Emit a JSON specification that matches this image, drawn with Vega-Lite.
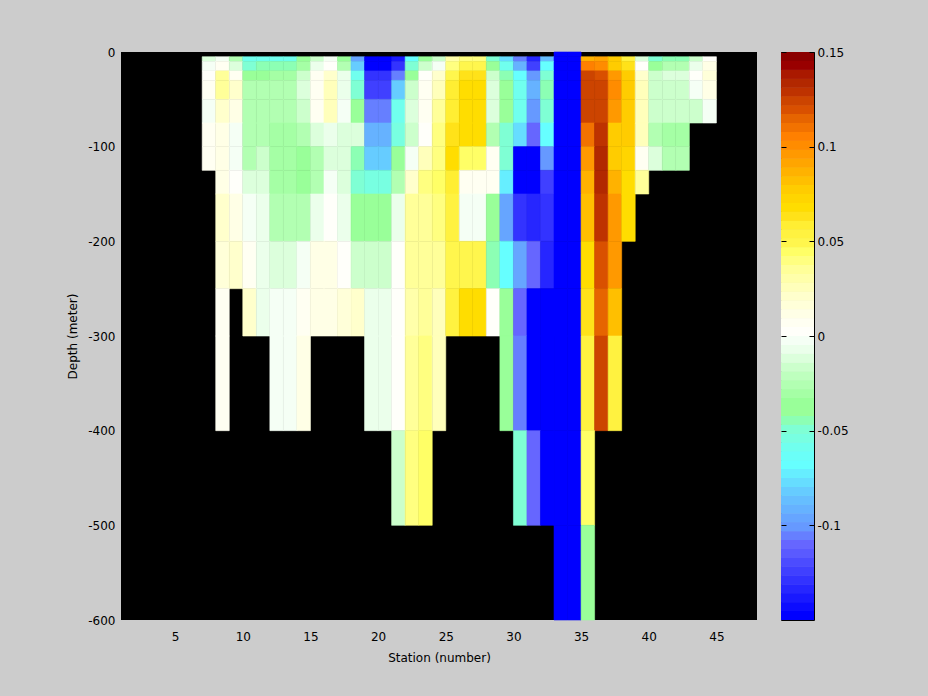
{"$schema":"https://vega.github.io/schema/vega-lite/v6.json","background":"#cccccc","padding":{"left":66,"top":45,"right":80,"bottom":33},"spacing":23,"config":{"font":"DejaVu Sans","axis":{"labelFont":"DejaVu Sans","titleFont":"DejaVu Sans","labelFontSize":12,"titleFontSize":12,"titleFontWeight":"normal","labelColor":"#000000","titleColor":"#000000","grid":false}},"hconcat":[{"width":636,"height":568,"view":{"fill":"#000000","stroke":null},"data":{"values":[
{"s":33,"e":34,"t":0,"b":-5,"v":-0.15},{"s":34,"e":35,"t":0,"b":-5,"v":-0.15},
{"s":7,"e":8,"t":-5,"b":-10,"v":-0.01},{"s":8,"e":9,"t":-5,"b":-10,"v":-0.001},{"s":9,"e":10,"t":-5,"b":-10,"v":-0.027},{"s":10,"e":11,"t":-5,"b":-10,"v":-0.06},{"s":11,"e":12,"t":-5,"b":-10,"v":-0.06},{"s":12,"e":13,"t":-5,"b":-10,"v":-0.058},{"s":13,"e":14,"t":-5,"b":-10,"v":-0.058},{"s":14,"e":15,"t":-5,"b":-10,"v":-0.037},{"s":15,"e":16,"t":-5,"b":-10,"v":-0.018},{"s":16,"e":17,"t":-5,"b":-10,"v":-0.003},{"s":17,"e":18,"t":-5,"b":-10,"v":-0.036},{"s":18,"e":19,"t":-5,"b":-10,"v":-0.095},{"s":19,"e":20,"t":-5,"b":-10,"v":-0.15},{"s":20,"e":21,"t":-5,"b":-10,"v":-0.15},{"s":21,"e":22,"t":-5,"b":-10,"v":-0.14},{"s":22,"e":23,"t":-5,"b":-10,"v":-0.07},{"s":23,"e":24,"t":-5,"b":-10,"v":-0.033},{"s":24,"e":25,"t":-5,"b":-10,"v":-0.017},{"s":25,"e":26,"t":-5,"b":-10,"v":0.03},{"s":26,"e":27,"t":-5,"b":-10,"v":0.039},{"s":27,"e":28,"t":-5,"b":-10,"v":0.039},{"s":28,"e":29,"t":-5,"b":-10,"v":-0.05},{"s":29,"e":30,"t":-5,"b":-10,"v":-0.078},{"s":30,"e":31,"t":-5,"b":-10,"v":-0.105},{"s":31,"e":32,"t":-5,"b":-10,"v":-0.134},{"s":32,"e":33,"t":-5,"b":-10,"v":-0.088},{"s":33,"e":34,"t":-5,"b":-10,"v":-0.15},{"s":34,"e":35,"t":-5,"b":-10,"v":-0.15},{"s":35,"e":36,"t":-5,"b":-10,"v":0.086},{"s":36,"e":37,"t":-5,"b":-10,"v":0.09},{"s":37,"e":38,"t":-5,"b":-10,"v":0.076},{"s":38,"e":39,"t":-5,"b":-10,"v":0.053},{"s":39,"e":40,"t":-5,"b":-10,"v":-0.01},{"s":40,"e":41,"t":-5,"b":-10,"v":-0.05},{"s":41,"e":42,"t":-5,"b":-10,"v":-0.043},{"s":42,"e":43,"t":-5,"b":-10,"v":-0.043},{"s":43,"e":44,"t":-5,"b":-10,"v":-0.017},{"s":44,"e":45,"t":-5,"b":-10,"v":0.001},
{"s":7,"e":8,"t":-10,"b":-20,"v":-0.004},{"s":8,"e":9,"t":-10,"b":-20,"v":0.008},{"s":9,"e":10,"t":-10,"b":-20,"v":-0.012},{"s":10,"e":11,"t":-10,"b":-20,"v":-0.05},{"s":11,"e":12,"t":-10,"b":-20,"v":-0.045},{"s":12,"e":13,"t":-10,"b":-20,"v":-0.043},{"s":13,"e":14,"t":-10,"b":-20,"v":-0.043},{"s":14,"e":15,"t":-10,"b":-20,"v":-0.03},{"s":15,"e":16,"t":-10,"b":-20,"v":-0.008},{"s":16,"e":17,"t":-10,"b":-20,"v":0.001},{"s":17,"e":18,"t":-10,"b":-20,"v":-0.027},{"s":18,"e":19,"t":-10,"b":-20,"v":-0.08},{"s":19,"e":20,"t":-10,"b":-20,"v":-0.15},{"s":20,"e":21,"t":-10,"b":-20,"v":-0.15},{"s":21,"e":22,"t":-10,"b":-20,"v":-0.128},{"s":22,"e":23,"t":-10,"b":-20,"v":-0.05},{"s":23,"e":24,"t":-10,"b":-20,"v":-0.017},{"s":24,"e":25,"t":-10,"b":-20,"v":-0.004},{"s":25,"e":26,"t":-10,"b":-20,"v":0.04},{"s":26,"e":27,"t":-10,"b":-20,"v":0.048},{"s":27,"e":28,"t":-10,"b":-20,"v":0.048},{"s":28,"e":29,"t":-10,"b":-20,"v":-0.037},{"s":29,"e":30,"t":-10,"b":-20,"v":-0.06},{"s":30,"e":31,"t":-10,"b":-20,"v":-0.09},{"s":31,"e":32,"t":-10,"b":-20,"v":-0.122},{"s":32,"e":33,"t":-10,"b":-20,"v":-0.07},{"s":33,"e":34,"t":-10,"b":-20,"v":-0.15},{"s":34,"e":35,"t":-10,"b":-20,"v":-0.15},{"s":35,"e":36,"t":-10,"b":-20,"v":0.105},{"s":36,"e":37,"t":-10,"b":-20,"v":0.1},{"s":37,"e":38,"t":-10,"b":-20,"v":0.076},{"s":38,"e":39,"t":-10,"b":-20,"v":0.062},{"s":39,"e":40,"t":-10,"b":-20,"v":0.001},{"s":40,"e":41,"t":-10,"b":-20,"v":-0.033},{"s":41,"e":42,"t":-10,"b":-20,"v":-0.027},{"s":42,"e":43,"t":-10,"b":-20,"v":-0.027},{"s":43,"e":44,"t":-10,"b":-20,"v":-0.008},{"s":44,"e":45,"t":-10,"b":-20,"v":0.012},
{"s":7,"e":8,"t":-20,"b":-30,"v":0.004},{"s":8,"e":9,"t":-20,"b":-30,"v":0.034},{"s":9,"e":10,"t":-20,"b":-30,"v":0.008},{"s":10,"e":11,"t":-20,"b":-30,"v":-0.037},{"s":11,"e":12,"t":-20,"b":-30,"v":-0.033},{"s":12,"e":13,"t":-20,"b":-30,"v":-0.031},{"s":13,"e":14,"t":-20,"b":-30,"v":-0.031},{"s":14,"e":15,"t":-20,"b":-30,"v":-0.017},{"s":15,"e":16,"t":-20,"b":-30,"v":0.006},{"s":16,"e":17,"t":-20,"b":-30,"v":0.02},{"s":17,"e":18,"t":-20,"b":-30,"v":-0.006},{"s":18,"e":19,"t":-20,"b":-30,"v":-0.06},{"s":19,"e":20,"t":-20,"b":-30,"v":-0.128},{"s":20,"e":21,"t":-20,"b":-30,"v":-0.128},{"s":21,"e":22,"t":-20,"b":-30,"v":-0.105},{"s":22,"e":23,"t":-20,"b":-30,"v":-0.033},{"s":23,"e":24,"t":-20,"b":-30,"v":0.002},{"s":24,"e":25,"t":-20,"b":-30,"v":0.02},{"s":25,"e":26,"t":-20,"b":-30,"v":0.05},{"s":26,"e":27,"t":-20,"b":-30,"v":0.062},{"s":27,"e":28,"t":-20,"b":-30,"v":0.062},{"s":28,"e":29,"t":-20,"b":-30,"v":-0.017},{"s":29,"e":30,"t":-20,"b":-30,"v":-0.043},{"s":30,"e":31,"t":-20,"b":-30,"v":-0.07},{"s":31,"e":32,"t":-20,"b":-30,"v":-0.1},{"s":32,"e":33,"t":-20,"b":-30,"v":-0.05},{"s":33,"e":34,"t":-20,"b":-30,"v":-0.15},{"s":34,"e":35,"t":-20,"b":-30,"v":-0.15},{"s":35,"e":36,"t":-20,"b":-30,"v":0.123},{"s":36,"e":37,"t":-20,"b":-30,"v":0.118},{"s":37,"e":38,"t":-20,"b":-30,"v":0.096},{"s":38,"e":39,"t":-20,"b":-30,"v":0.076},{"s":39,"e":40,"t":-20,"b":-30,"v":0.02},{"s":40,"e":41,"t":-20,"b":-30,"v":-0.017},{"s":41,"e":42,"t":-20,"b":-30,"v":-0.012},{"s":42,"e":43,"t":-20,"b":-30,"v":-0.012},{"s":43,"e":44,"t":-20,"b":-30,"v":0.004},{"s":44,"e":45,"t":-20,"b":-30,"v":0.017},
{"s":7,"e":8,"t":-30,"b":-50,"v":0.005},{"s":8,"e":9,"t":-30,"b":-50,"v":0.034},{"s":9,"e":10,"t":-30,"b":-50,"v":0.02},{"s":10,"e":11,"t":-30,"b":-50,"v":-0.027},{"s":11,"e":12,"t":-30,"b":-50,"v":-0.024},{"s":12,"e":13,"t":-30,"b":-50,"v":-0.028},{"s":13,"e":14,"t":-30,"b":-50,"v":-0.028},{"s":14,"e":15,"t":-30,"b":-50,"v":-0.012},{"s":15,"e":16,"t":-30,"b":-50,"v":0.006},{"s":16,"e":17,"t":-30,"b":-50,"v":0.026},{"s":17,"e":18,"t":-30,"b":-50,"v":-0.008},{"s":18,"e":19,"t":-30,"b":-50,"v":-0.05},{"s":19,"e":20,"t":-30,"b":-50,"v":-0.122},{"s":20,"e":21,"t":-30,"b":-50,"v":-0.122},{"s":21,"e":22,"t":-30,"b":-50,"v":-0.08},{"s":22,"e":23,"t":-30,"b":-50,"v":-0.017},{"s":23,"e":24,"t":-30,"b":-50,"v":0.005},{"s":24,"e":25,"t":-30,"b":-50,"v":0.026},{"s":25,"e":26,"t":-30,"b":-50,"v":0.06},{"s":26,"e":27,"t":-30,"b":-50,"v":0.066},{"s":27,"e":28,"t":-30,"b":-50,"v":0.066},{"s":28,"e":29,"t":-30,"b":-50,"v":-0.014},{"s":29,"e":30,"t":-30,"b":-50,"v":-0.037},{"s":30,"e":31,"t":-30,"b":-50,"v":-0.06},{"s":31,"e":32,"t":-30,"b":-50,"v":-0.09},{"s":32,"e":33,"t":-30,"b":-50,"v":-0.045},{"s":33,"e":34,"t":-30,"b":-50,"v":-0.15},{"s":34,"e":35,"t":-30,"b":-50,"v":-0.15},{"s":35,"e":36,"t":-30,"b":-50,"v":0.123},{"s":36,"e":37,"t":-30,"b":-50,"v":0.123},{"s":37,"e":38,"t":-30,"b":-50,"v":0.1},{"s":38,"e":39,"t":-30,"b":-50,"v":0.076},{"s":39,"e":40,"t":-30,"b":-50,"v":0.026},{"s":40,"e":41,"t":-30,"b":-50,"v":-0.018},{"s":41,"e":42,"t":-30,"b":-50,"v":-0.018},{"s":42,"e":43,"t":-30,"b":-50,"v":-0.018},{"s":43,"e":44,"t":-30,"b":-50,"v":-0.003},{"s":44,"e":45,"t":-30,"b":-50,"v":0.012},
{"s":7,"e":8,"t":-50,"b":-75,"v":-0.004},{"s":8,"e":9,"t":-50,"b":-75,"v":0.022},{"s":9,"e":10,"t":-50,"b":-75,"v":0.013},{"s":10,"e":11,"t":-50,"b":-75,"v":-0.024},{"s":11,"e":12,"t":-50,"b":-75,"v":-0.024},{"s":12,"e":13,"t":-50,"b":-75,"v":-0.024},{"s":13,"e":14,"t":-50,"b":-75,"v":-0.024},{"s":14,"e":15,"t":-50,"b":-75,"v":-0.015},{"s":15,"e":16,"t":-50,"b":-75,"v":0.006},{"s":16,"e":17,"t":-50,"b":-75,"v":0.026},{"s":17,"e":18,"t":-50,"b":-75,"v":-0.001},{"s":18,"e":19,"t":-50,"b":-75,"v":-0.038},{"s":19,"e":20,"t":-50,"b":-75,"v":-0.105},{"s":20,"e":21,"t":-50,"b":-75,"v":-0.105},{"s":21,"e":22,"t":-50,"b":-75,"v":-0.06},{"s":22,"e":23,"t":-50,"b":-75,"v":-0.012},{"s":23,"e":24,"t":-50,"b":-75,"v":0.005},{"s":24,"e":25,"t":-50,"b":-75,"v":0.034},{"s":25,"e":26,"t":-50,"b":-75,"v":0.058},{"s":26,"e":27,"t":-50,"b":-75,"v":0.066},{"s":27,"e":28,"t":-50,"b":-75,"v":0.066},{"s":28,"e":29,"t":-50,"b":-75,"v":-0.014},{"s":29,"e":30,"t":-50,"b":-75,"v":-0.037},{"s":30,"e":31,"t":-50,"b":-75,"v":-0.06},{"s":31,"e":32,"t":-50,"b":-75,"v":-0.1},{"s":32,"e":33,"t":-50,"b":-75,"v":-0.05},{"s":33,"e":34,"t":-50,"b":-75,"v":-0.15},{"s":34,"e":35,"t":-50,"b":-75,"v":-0.15},{"s":35,"e":36,"t":-50,"b":-75,"v":0.123},{"s":36,"e":37,"t":-50,"b":-75,"v":0.123},{"s":37,"e":38,"t":-50,"b":-75,"v":0.096},{"s":38,"e":39,"t":-50,"b":-75,"v":0.076},{"s":39,"e":40,"t":-50,"b":-75,"v":0.028},{"s":40,"e":41,"t":-50,"b":-75,"v":-0.018},{"s":41,"e":42,"t":-50,"b":-75,"v":-0.018},{"s":42,"e":43,"t":-50,"b":-75,"v":-0.018},{"s":43,"e":44,"t":-50,"b":-75,"v":-0.018},{"s":44,"e":45,"t":-50,"b":-75,"v":-0.003},
{"s":7,"e":8,"t":-75,"b":-100,"v":0.009},{"s":8,"e":9,"t":-75,"b":-100,"v":0.012},{"s":9,"e":10,"t":-75,"b":-100,"v":-0.002},{"s":10,"e":11,"t":-75,"b":-100,"v":-0.027},{"s":11,"e":12,"t":-75,"b":-100,"v":-0.024},{"s":12,"e":13,"t":-75,"b":-100,"v":-0.032},{"s":13,"e":14,"t":-75,"b":-100,"v":-0.032},{"s":14,"e":15,"t":-75,"b":-100,"v":-0.028},{"s":15,"e":16,"t":-75,"b":-100,"v":-0.011},{"s":16,"e":17,"t":-75,"b":-100,"v":-0.008},{"s":17,"e":18,"t":-75,"b":-100,"v":-0.011},{"s":18,"e":19,"t":-75,"b":-100,"v":-0.011},{"s":19,"e":20,"t":-75,"b":-100,"v":-0.09},{"s":20,"e":21,"t":-75,"b":-100,"v":-0.09},{"s":21,"e":22,"t":-75,"b":-100,"v":-0.055},{"s":22,"e":23,"t":-75,"b":-100,"v":-0.017},{"s":23,"e":24,"t":-75,"b":-100,"v":0.001},{"s":24,"e":25,"t":-75,"b":-100,"v":0.039},{"s":25,"e":26,"t":-75,"b":-100,"v":0.064},{"s":26,"e":27,"t":-75,"b":-100,"v":0.068},{"s":27,"e":28,"t":-75,"b":-100,"v":0.068},{"s":28,"e":29,"t":-75,"b":-100,"v":-0.024},{"s":29,"e":30,"t":-75,"b":-100,"v":-0.047},{"s":30,"e":31,"t":-75,"b":-100,"v":-0.078},{"s":31,"e":32,"t":-75,"b":-100,"v":-0.11},{"s":32,"e":33,"t":-75,"b":-100,"v":-0.07},{"s":33,"e":34,"t":-75,"b":-100,"v":-0.15},{"s":34,"e":35,"t":-75,"b":-100,"v":-0.15},{"s":35,"e":36,"t":-75,"b":-100,"v":0.11},{"s":36,"e":37,"t":-75,"b":-100,"v":0.13},{"s":37,"e":38,"t":-75,"b":-100,"v":0.076},{"s":38,"e":39,"t":-75,"b":-100,"v":0.077},{"s":39,"e":40,"t":-75,"b":-100,"v":0.028},{"s":40,"e":41,"t":-75,"b":-100,"v":-0.024},{"s":41,"e":42,"t":-75,"b":-100,"v":-0.032},{"s":42,"e":43,"t":-75,"b":-100,"v":-0.032},
{"s":7,"e":8,"t":-100,"b":-125,"v":0.009},{"s":8,"e":9,"t":-100,"b":-125,"v":0.011},{"s":9,"e":10,"t":-100,"b":-125,"v":-0.002},{"s":10,"e":11,"t":-100,"b":-125,"v":-0.027},{"s":11,"e":12,"t":-100,"b":-125,"v":-0.015},{"s":12,"e":13,"t":-100,"b":-125,"v":-0.032},{"s":13,"e":14,"t":-100,"b":-125,"v":-0.032},{"s":14,"e":15,"t":-100,"b":-125,"v":-0.036},{"s":15,"e":16,"t":-100,"b":-125,"v":-0.027},{"s":16,"e":17,"t":-100,"b":-125,"v":-0.012},{"s":17,"e":18,"t":-100,"b":-125,"v":-0.014},{"s":18,"e":19,"t":-100,"b":-125,"v":-0.043},{"s":19,"e":20,"t":-100,"b":-125,"v":-0.08},{"s":20,"e":21,"t":-100,"b":-125,"v":-0.08},{"s":21,"e":22,"t":-100,"b":-125,"v":-0.042},{"s":22,"e":23,"t":-100,"b":-125,"v":-0.002},{"s":23,"e":24,"t":-100,"b":-125,"v":0.026},{"s":24,"e":25,"t":-100,"b":-125,"v":0.04},{"s":25,"e":26,"t":-100,"b":-125,"v":0.07},{"s":26,"e":27,"t":-100,"b":-125,"v":0.045},{"s":27,"e":28,"t":-100,"b":-125,"v":0.045},{"s":28,"e":29,"t":-100,"b":-125,"v":0.009},{"s":29,"e":30,"t":-100,"b":-125,"v":-0.05},{"s":30,"e":31,"t":-100,"b":-125,"v":-0.15},{"s":31,"e":32,"t":-100,"b":-125,"v":-0.15},{"s":32,"e":33,"t":-100,"b":-125,"v":-0.1},{"s":33,"e":34,"t":-100,"b":-125,"v":-0.15},{"s":34,"e":35,"t":-100,"b":-125,"v":-0.15},{"s":35,"e":36,"t":-100,"b":-125,"v":0.096},{"s":36,"e":37,"t":-100,"b":-125,"v":0.135},{"s":37,"e":38,"t":-100,"b":-125,"v":0.076},{"s":38,"e":39,"t":-100,"b":-125,"v":0.072},{"s":39,"e":40,"t":-100,"b":-125,"v":0.005},{"s":40,"e":41,"t":-100,"b":-125,"v":-0.012},{"s":41,"e":42,"t":-100,"b":-125,"v":-0.027},{"s":42,"e":43,"t":-100,"b":-125,"v":-0.027},
{"s":8,"e":9,"t":-125,"b":-150,"v":0.012},{"s":9,"e":10,"t":-125,"b":-150,"v":0.003},{"s":10,"e":11,"t":-125,"b":-150,"v":-0.011},{"s":11,"e":12,"t":-125,"b":-150,"v":-0.011},{"s":12,"e":13,"t":-125,"b":-150,"v":-0.032},{"s":13,"e":14,"t":-125,"b":-150,"v":-0.032},{"s":14,"e":15,"t":-125,"b":-150,"v":-0.036},{"s":15,"e":16,"t":-125,"b":-150,"v":-0.024},{"s":16,"e":17,"t":-125,"b":-150,"v":-0.002},{"s":17,"e":18,"t":-125,"b":-150,"v":-0.012},{"s":18,"e":19,"t":-125,"b":-150,"v":-0.047},{"s":19,"e":20,"t":-125,"b":-150,"v":-0.052},{"s":20,"e":21,"t":-125,"b":-150,"v":-0.052},{"s":21,"e":22,"t":-125,"b":-150,"v":-0.024},{"s":22,"e":23,"t":-125,"b":-150,"v":0.02},{"s":23,"e":24,"t":-125,"b":-150,"v":0.039},{"s":24,"e":25,"t":-125,"b":-150,"v":0.045},{"s":25,"e":26,"t":-125,"b":-150,"v":0.06},{"s":26,"e":27,"t":-125,"b":-150,"v":0.009},{"s":27,"e":28,"t":-125,"b":-150,"v":0.009},{"s":28,"e":29,"t":-125,"b":-150,"v":0.009},{"s":29,"e":30,"t":-125,"b":-150,"v":-0.073},{"s":30,"e":31,"t":-125,"b":-150,"v":-0.15},{"s":31,"e":32,"t":-125,"b":-150,"v":-0.15},{"s":32,"e":33,"t":-125,"b":-150,"v":-0.122},{"s":33,"e":34,"t":-125,"b":-150,"v":-0.15},{"s":34,"e":35,"t":-125,"b":-150,"v":-0.15},{"s":35,"e":36,"t":-125,"b":-150,"v":0.086},{"s":36,"e":37,"t":-125,"b":-150,"v":0.135},{"s":37,"e":38,"t":-125,"b":-150,"v":0.086},{"s":38,"e":39,"t":-125,"b":-150,"v":0.07},{"s":39,"e":40,"t":-125,"b":-150,"v":0.034},
{"s":8,"e":9,"t":-150,"b":-200,"v":0.02},{"s":9,"e":10,"t":-150,"b":-200,"v":0.012},{"s":10,"e":11,"t":-150,"b":-200,"v":-0.002},{"s":11,"e":12,"t":-150,"b":-200,"v":-0.007},{"s":12,"e":13,"t":-150,"b":-200,"v":-0.027},{"s":13,"e":14,"t":-150,"b":-200,"v":-0.027},{"s":14,"e":15,"t":-150,"b":-200,"v":-0.027},{"s":15,"e":16,"t":-150,"b":-200,"v":-0.007},{"s":16,"e":17,"t":-150,"b":-200,"v":0.002},{"s":17,"e":18,"t":-150,"b":-200,"v":-0.007},{"s":18,"e":19,"t":-150,"b":-200,"v":-0.037},{"s":19,"e":20,"t":-150,"b":-200,"v":-0.037},{"s":20,"e":21,"t":-150,"b":-200,"v":-0.037},{"s":21,"e":22,"t":-150,"b":-200,"v":-0.007},{"s":22,"e":23,"t":-150,"b":-200,"v":0.034},{"s":23,"e":24,"t":-150,"b":-200,"v":0.034},{"s":24,"e":25,"t":-150,"b":-200,"v":0.039},{"s":25,"e":26,"t":-150,"b":-200,"v":0.056},{"s":26,"e":27,"t":-150,"b":-200,"v":-0.002},{"s":27,"e":28,"t":-150,"b":-200,"v":-0.002},{"s":28,"e":29,"t":-150,"b":-200,"v":-0.037},{"s":29,"e":30,"t":-150,"b":-200,"v":-0.095},{"s":30,"e":31,"t":-150,"b":-200,"v":-0.128},{"s":31,"e":32,"t":-150,"b":-200,"v":-0.135},{"s":32,"e":33,"t":-150,"b":-200,"v":-0.128},{"s":33,"e":34,"t":-150,"b":-200,"v":-0.15},{"s":34,"e":35,"t":-150,"b":-200,"v":-0.15},{"s":35,"e":36,"t":-150,"b":-200,"v":0.082},{"s":36,"e":37,"t":-150,"b":-200,"v":0.13},{"s":37,"e":38,"t":-150,"b":-200,"v":0.096},{"s":38,"e":39,"t":-150,"b":-200,"v":0.07},
{"s":8,"e":9,"t":-200,"b":-250,"v":0.017},{"s":9,"e":10,"t":-200,"b":-250,"v":0.019},{"s":10,"e":11,"t":-200,"b":-250,"v":0.006},{"s":11,"e":12,"t":-200,"b":-250,"v":-0.005},{"s":12,"e":13,"t":-200,"b":-250,"v":-0.011},{"s":13,"e":14,"t":-200,"b":-250,"v":-0.011},{"s":14,"e":15,"t":-200,"b":-250,"v":-0.003},{"s":15,"e":16,"t":-200,"b":-250,"v":0.014},{"s":16,"e":17,"t":-200,"b":-250,"v":0.014},{"s":17,"e":18,"t":-200,"b":-250,"v":0.002},{"s":18,"e":19,"t":-200,"b":-250,"v":-0.018},{"s":19,"e":20,"t":-200,"b":-250,"v":-0.018},{"s":20,"e":21,"t":-200,"b":-250,"v":-0.018},{"s":21,"e":22,"t":-200,"b":-250,"v":0.002},{"s":22,"e":23,"t":-200,"b":-250,"v":0.034},{"s":23,"e":24,"t":-200,"b":-250,"v":0.034},{"s":24,"e":25,"t":-200,"b":-250,"v":0.034},{"s":25,"e":26,"t":-200,"b":-250,"v":0.047},{"s":26,"e":27,"t":-200,"b":-250,"v":0.047},{"s":27,"e":28,"t":-200,"b":-250,"v":0.047},{"s":28,"e":29,"t":-200,"b":-250,"v":-0.044},{"s":29,"e":30,"t":-200,"b":-250,"v":-0.07},{"s":30,"e":31,"t":-200,"b":-250,"v":-0.095},{"s":31,"e":32,"t":-200,"b":-250,"v":-0.11},{"s":32,"e":33,"t":-200,"b":-250,"v":-0.135},{"s":33,"e":34,"t":-200,"b":-250,"v":-0.15},{"s":34,"e":35,"t":-200,"b":-250,"v":-0.15},{"s":35,"e":36,"t":-200,"b":-250,"v":0.07},{"s":36,"e":37,"t":-200,"b":-250,"v":0.118},{"s":37,"e":38,"t":-200,"b":-250,"v":0.096},
{"s":8,"e":9,"t":-250,"b":-300,"v":0.005},{"s":10,"e":11,"t":-250,"b":-300,"v":0.02},{"s":11,"e":12,"t":-250,"b":-300,"v":-0.005},{"s":12,"e":13,"t":-250,"b":-300,"v":-0.002},{"s":13,"e":14,"t":-250,"b":-300,"v":-0.002},{"s":14,"e":15,"t":-250,"b":-300,"v":0.009},{"s":15,"e":16,"t":-250,"b":-300,"v":0.012},{"s":16,"e":17,"t":-250,"b":-300,"v":0.012},{"s":17,"e":18,"t":-250,"b":-300,"v":0.015},{"s":18,"e":19,"t":-250,"b":-300,"v":0.021},{"s":19,"e":20,"t":-250,"b":-300,"v":-0.007},{"s":20,"e":21,"t":-250,"b":-300,"v":-0.007},{"s":21,"e":22,"t":-250,"b":-300,"v":0.002},{"s":22,"e":23,"t":-250,"b":-300,"v":0.03},{"s":23,"e":24,"t":-250,"b":-300,"v":0.034},{"s":24,"e":25,"t":-250,"b":-300,"v":0.024},{"s":25,"e":26,"t":-250,"b":-300,"v":0.056},{"s":26,"e":27,"t":-250,"b":-300,"v":0.068},{"s":27,"e":28,"t":-250,"b":-300,"v":0.068},{"s":28,"e":29,"t":-250,"b":-300,"v":0.002},{"s":29,"e":30,"t":-250,"b":-300,"v":-0.037},{"s":30,"e":31,"t":-250,"b":-300,"v":-0.11},{"s":31,"e":32,"t":-250,"b":-300,"v":-0.15},{"s":32,"e":33,"t":-250,"b":-300,"v":-0.15},{"s":33,"e":34,"t":-250,"b":-300,"v":-0.15},{"s":34,"e":35,"t":-250,"b":-300,"v":-0.15},{"s":35,"e":36,"t":-250,"b":-300,"v":0.062},{"s":36,"e":37,"t":-250,"b":-300,"v":0.115},{"s":37,"e":38,"t":-250,"b":-300,"v":0.082},
{"s":8,"e":9,"t":-300,"b":-400,"v":0.009},{"s":12,"e":13,"t":-300,"b":-400,"v":-0.002},{"s":13,"e":14,"t":-300,"b":-400,"v":-0.002},{"s":14,"e":15,"t":-300,"b":-400,"v":0.014},{"s":19,"e":20,"t":-300,"b":-400,"v":-0.007},{"s":20,"e":21,"t":-300,"b":-400,"v":-0.007},{"s":21,"e":22,"t":-300,"b":-400,"v":0.002},{"s":22,"e":23,"t":-300,"b":-400,"v":0.036},{"s":23,"e":24,"t":-300,"b":-400,"v":0.039},{"s":24,"e":25,"t":-300,"b":-400,"v":0.024},{"s":29,"e":30,"t":-300,"b":-400,"v":-0.038},{"s":30,"e":31,"t":-300,"b":-400,"v":-0.105},{"s":31,"e":32,"t":-300,"b":-400,"v":-0.15},{"s":32,"e":33,"t":-300,"b":-400,"v":-0.15},{"s":33,"e":34,"t":-300,"b":-400,"v":-0.15},{"s":34,"e":35,"t":-300,"b":-400,"v":-0.15},{"s":35,"e":36,"t":-300,"b":-400,"v":0.056},{"s":36,"e":37,"t":-300,"b":-400,"v":0.123},{"s":37,"e":38,"t":-300,"b":-400,"v":0.056},
{"s":21,"e":22,"t":-400,"b":-500,"v":-0.017},{"s":22,"e":23,"t":-400,"b":-500,"v":0.039},{"s":23,"e":24,"t":-400,"b":-500,"v":0.043},{"s":30,"e":31,"t":-400,"b":-500,"v":-0.05},{"s":31,"e":32,"t":-400,"b":-500,"v":-0.11},{"s":32,"e":33,"t":-400,"b":-500,"v":-0.15},{"s":33,"e":34,"t":-400,"b":-500,"v":-0.15},{"s":34,"e":35,"t":-400,"b":-500,"v":-0.15},{"s":35,"e":36,"t":-400,"b":-500,"v":0.043},
{"s":33,"e":34,"t":-500,"b":-600,"v":-0.15},{"s":34,"e":35,"t":-500,"b":-600,"v":-0.15},{"s":35,"e":36,"t":-500,"b":-600,"v":-0.037}
]},"mark":{"type":"rect","strokeWidth":0.6},"encoding":{"x":{"field":"s","type":"quantitative","scale":{"domain":[1,48],"nice":false,"zero":false},"axis":{"title":"Station (number)","values":[5,10,15,20,25,30,35,40,45],"ticks":false,"domain":false,"labelPadding":11,"titlePadding":10,"labelFlush":false}},"x2":{"field":"e"},"y":{"field":"t","type":"quantitative","scale":{"domain":[-600,0],"nice":false,"zero":false},"axis":{"title":"Depth (meter)","values":[-600,-500,-400,-300,-200,-100,0],"ticks":false,"domain":false,"labelPadding":6,"titlePadding":8,"labelExpr":"''+datum.value"}},"y2":{"field":"b"},"stroke":{"field":"v","type":"quantitative","legend":null,"scale":{"type":"quantize","domain":[-0.15,0.15],"nice":false,"range":["#0000ff","#0c0cff","#1919ff","#2626ff","#3333ff","#4040ff","#4c4cff","#5a5aff","#6666ff","#667fff","#6699ff","#66a5ff","#66b2ff","#66beff","#66ccff","#66ddff","#66eeff","#66ffff","#6afff8","#70ffee","#78ffe1","#7fffd4","#8cffb4","#99ff99","#99ff99","#a5ffa5","#b2ffb2","#beffbe","#ccffcc","#dcffdc","#ebffeb","#f5fff5","#fffffa","#fffff2","#ffffe6","#ffffd9","#ffffcc","#ffffbb","#ffffaa","#ffff99","#ffff80","#ffff66","#fff64d","#fff240","#ffee33","#ffe219","#ffdd00","#ffd500","#ffcc00","#ffbf00","#ffb200","#ffa500","#ff9900","#ff8c00","#ff8000","#f27200","#e66400","#d95000","#cc4400","#be3200","#b22800","#aa1900","#990000","#8b0000"]}},"color":{"field":"v","type":"quantitative","legend":null,"scale":{"type":"quantize","domain":[-0.15,0.15],"nice":false,"range":["#0000ff","#0c0cff","#1919ff","#2626ff","#3333ff","#4040ff","#4c4cff","#5a5aff","#6666ff","#667fff","#6699ff","#66a5ff","#66b2ff","#66beff","#66ccff","#66ddff","#66eeff","#66ffff","#6afff8","#70ffee","#78ffe1","#7fffd4","#8cffb4","#99ff99","#99ff99","#a5ffa5","#b2ffb2","#beffbe","#ccffcc","#dcffdc","#ebffeb","#f5fff5","#fffffa","#fffff2","#ffffe6","#ffffd9","#ffffcc","#ffffbb","#ffffaa","#ffff99","#ffff80","#ffff66","#fff64d","#fff240","#ffee33","#ffe219","#ffdd00","#ffd500","#ffcc00","#ffbf00","#ffb200","#ffa500","#ff9900","#ff8c00","#ff8000","#f27200","#e66400","#d95000","#cc4400","#be3200","#b22800","#aa1900","#990000","#8b0000"]}}}},
{"width":33,"height":568,"view":{"stroke":"#000000","strokeWidth":1},"data":{"values":[
{"a":0,"c":1,"lo":-0.15,"hi":-0.1453,"v":-0.1477},{"a":0,"c":1,"lo":-0.1453,"hi":-0.1406,"v":-0.143},{"a":0,"c":1,"lo":-0.1406,"hi":-0.1359,"v":-0.1383},{"a":0,"c":1,"lo":-0.1359,"hi":-0.1313,"v":-0.1336},{"a":0,"c":1,"lo":-0.1313,"hi":-0.1266,"v":-0.1289},{"a":0,"c":1,"lo":-0.1266,"hi":-0.1219,"v":-0.1242},{"a":0,"c":1,"lo":-0.1219,"hi":-0.1172,"v":-0.1195},{"a":0,"c":1,"lo":-0.1172,"hi":-0.1125,"v":-0.1148},{"a":0,"c":1,"lo":-0.1125,"hi":-0.1078,"v":-0.1102},{"a":0,"c":1,"lo":-0.1078,"hi":-0.1031,"v":-0.1055},{"a":0,"c":1,"lo":-0.1031,"hi":-0.0984,"v":-0.1008},{"a":0,"c":1,"lo":-0.0984,"hi":-0.0938,"v":-0.0961},{"a":0,"c":1,"lo":-0.0938,"hi":-0.0891,"v":-0.0914},{"a":0,"c":1,"lo":-0.0891,"hi":-0.0844,"v":-0.0867},{"a":0,"c":1,"lo":-0.0844,"hi":-0.0797,"v":-0.082},{"a":0,"c":1,"lo":-0.0797,"hi":-0.075,"v":-0.0773},{"a":0,"c":1,"lo":-0.075,"hi":-0.0703,"v":-0.0727},{"a":0,"c":1,"lo":-0.0703,"hi":-0.0656,"v":-0.068},{"a":0,"c":1,"lo":-0.0656,"hi":-0.0609,"v":-0.0633},{"a":0,"c":1,"lo":-0.0609,"hi":-0.0563,"v":-0.0586},{"a":0,"c":1,"lo":-0.0563,"hi":-0.0516,"v":-0.0539},{"a":0,"c":1,"lo":-0.0516,"hi":-0.0469,"v":-0.0492},{"a":0,"c":1,"lo":-0.0469,"hi":-0.0422,"v":-0.0445},{"a":0,"c":1,"lo":-0.0422,"hi":-0.0375,"v":-0.0398},{"a":0,"c":1,"lo":-0.0375,"hi":-0.0328,"v":-0.0352},{"a":0,"c":1,"lo":-0.0328,"hi":-0.0281,"v":-0.0305},{"a":0,"c":1,"lo":-0.0281,"hi":-0.0234,"v":-0.0258},{"a":0,"c":1,"lo":-0.0234,"hi":-0.0188,"v":-0.0211},{"a":0,"c":1,"lo":-0.0188,"hi":-0.0141,"v":-0.0164},{"a":0,"c":1,"lo":-0.0141,"hi":-0.0094,"v":-0.0117},{"a":0,"c":1,"lo":-0.0094,"hi":-0.0047,"v":-0.007},{"a":0,"c":1,"lo":-0.0047,"hi":0,"v":-0.0023},
{"a":0,"c":1,"lo":0,"hi":0.0047,"v":0.0023},{"a":0,"c":1,"lo":0.0047,"hi":0.0094,"v":0.007},{"a":0,"c":1,"lo":0.0094,"hi":0.0141,"v":0.0117},{"a":0,"c":1,"lo":0.0141,"hi":0.0188,"v":0.0164},{"a":0,"c":1,"lo":0.0188,"hi":0.0234,"v":0.0211},{"a":0,"c":1,"lo":0.0234,"hi":0.0281,"v":0.0258},{"a":0,"c":1,"lo":0.0281,"hi":0.0328,"v":0.0305},{"a":0,"c":1,"lo":0.0328,"hi":0.0375,"v":0.0352},{"a":0,"c":1,"lo":0.0375,"hi":0.0422,"v":0.0398},{"a":0,"c":1,"lo":0.0422,"hi":0.0469,"v":0.0445},{"a":0,"c":1,"lo":0.0469,"hi":0.0516,"v":0.0492},{"a":0,"c":1,"lo":0.0516,"hi":0.0563,"v":0.0539},{"a":0,"c":1,"lo":0.0563,"hi":0.0609,"v":0.0586},{"a":0,"c":1,"lo":0.0609,"hi":0.0656,"v":0.0633},{"a":0,"c":1,"lo":0.0656,"hi":0.0703,"v":0.068},{"a":0,"c":1,"lo":0.0703,"hi":0.075,"v":0.0727},{"a":0,"c":1,"lo":0.075,"hi":0.0797,"v":0.0773},{"a":0,"c":1,"lo":0.0797,"hi":0.0844,"v":0.082},{"a":0,"c":1,"lo":0.0844,"hi":0.0891,"v":0.0867},{"a":0,"c":1,"lo":0.0891,"hi":0.0938,"v":0.0914},{"a":0,"c":1,"lo":0.0938,"hi":0.0984,"v":0.0961},{"a":0,"c":1,"lo":0.0984,"hi":0.1031,"v":0.1008},{"a":0,"c":1,"lo":0.1031,"hi":0.1078,"v":0.1055},{"a":0,"c":1,"lo":0.1078,"hi":0.1125,"v":0.1102},{"a":0,"c":1,"lo":0.1125,"hi":0.1172,"v":0.1148},{"a":0,"c":1,"lo":0.1172,"hi":0.1219,"v":0.1195},{"a":0,"c":1,"lo":0.1219,"hi":0.1266,"v":0.1242},{"a":0,"c":1,"lo":0.1266,"hi":0.1313,"v":0.1289},{"a":0,"c":1,"lo":0.1313,"hi":0.1359,"v":0.1336},{"a":0,"c":1,"lo":0.1359,"hi":0.1406,"v":0.1383},{"a":0,"c":1,"lo":0.1406,"hi":0.1453,"v":0.143},{"a":0,"c":1,"lo":0.1453,"hi":0.15,"v":0.1477}
]},"resolve":{"axis":{"y":"independent"}},"encoding":{"x":{"field":"a","type":"quantitative","scale":{"domain":[0,1],"nice":false},"axis":null},"x2":{"field":"c"},"y":{"field":"lo","type":"quantitative","scale":{"domain":[-0.15,0.15],"nice":false,"zero":false}},"y2":{"field":"hi"},"color":{"field":"v","type":"quantitative","legend":null,"scale":{"type":"quantize","domain":[-0.15,0.15],"nice":false,"range":["#0000ff","#0c0cff","#1919ff","#2626ff","#3333ff","#4040ff","#4c4cff","#5a5aff","#6666ff","#667fff","#6699ff","#66a5ff","#66b2ff","#66beff","#66ccff","#66ddff","#66eeff","#66ffff","#6afff8","#70ffee","#78ffe1","#7fffd4","#8cffb4","#99ff99","#99ff99","#a5ffa5","#b2ffb2","#beffbe","#ccffcc","#dcffdc","#ebffeb","#f5fff5","#fffffa","#fffff2","#ffffe6","#ffffd9","#ffffcc","#ffffbb","#ffffaa","#ffff99","#ffff80","#ffff66","#fff64d","#fff240","#ffee33","#ffe219","#ffdd00","#ffd500","#ffcc00","#ffbf00","#ffb200","#ffa500","#ff9900","#ff8c00","#ff8000","#f27200","#e66400","#d95000","#cc4400","#be3200","#b22800","#aa1900","#990000","#8b0000"]}}},"layer":[{"mark":{"type":"rect","strokeWidth":0},"encoding":{"y":{"field":"lo","type":"quantitative","scale":{"domain":[-0.15,0.15],"nice":false,"zero":false},"axis":{"orient":"left","title":null,"values":[-0.1,-0.05,0,0.05,0.1,0.15],"labels":false,"domain":false,"tickSize":-5,"tickColor":"#000000","zindex":1}}}},{"mark":{"type":"rect","strokeWidth":0},"encoding":{"y":{"field":"lo","type":"quantitative","scale":{"domain":[-0.15,0.15],"nice":false,"zero":false},"axis":{"orient":"right","title":null,"values":[-0.1,-0.05,0,0.05,0.1,0.15],"domain":false,"tickSize":-5,"tickColor":"#000000","labelPadding":8,"labelExpr":"''+datum.value","zindex":1}}}}]}
]}
